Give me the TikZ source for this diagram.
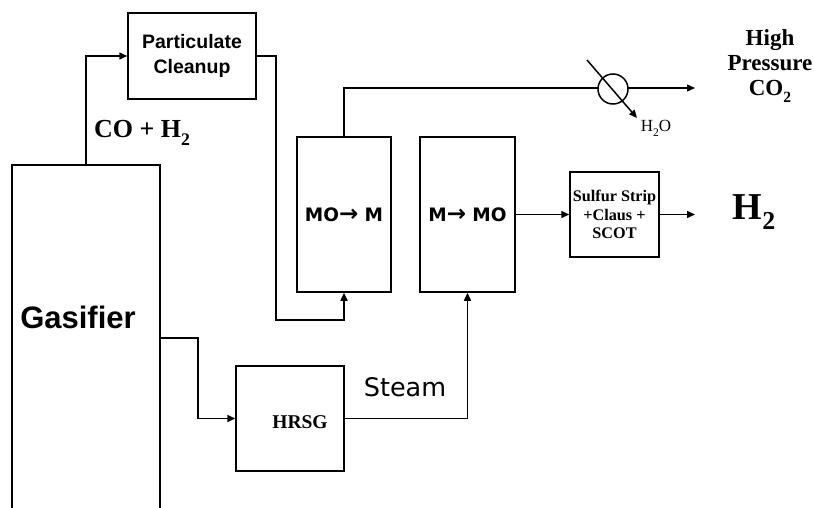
\documentclass[tikz,border=0pt]{standalone}
\usepackage{fontspec}
\setmainfont{Liberation Serif}
\newfontfamily\ari{Liberation Sans}
\newfontfamily\vrd{DejaVu Sans}
\usetikzlibrary{arrows.meta}
\newcommand\sbs[1]{\raisebox{-0.28em}{\scalebox{0.68}{#1}}}
\newcommand\bigarr{{\fontsize{23}{20}\selectfont →}}
\tikzset{
  box/.style={draw, line width=1.5pt, fill=white, inner sep=0pt, align=center},
  arr/.style={line width=1.5pt, -{Triangle[length=8pt,width=7pt]}},
}
\begin{document}
\begin{tikzpicture}[x=1pt,y=-1pt]
\useasboundingbox (0,0) rectangle (814,508);
% boxes
\node[box, minimum width=148pt, minimum height=380pt] (gas) at (86,355) {};
\node[font=\ari\bfseries\fontsize{31}{36}\selectfont] (gast) at (78,317) {Gasifier};
\node[box, minimum width=128pt, minimum height=86pt, font=\ari\bfseries\fontsize{19.5}{25}\selectfont] (pc) at (192,56) {Particulate\\Cleanup};
\node[box, minimum width=94pt, minimum height=155pt, font=\vrd\bfseries\fontsize{18.5}{20}\selectfont] (mom) at (344,214.5) {MO\bigarr{} M};
\node[box, minimum width=95pt, minimum height=155pt, font=\vrd\bfseries\fontsize{18.5}{20}\selectfont] (mmo) at (467.5,214.5) {M\bigarr{} MO};
\node[box, minimum width=89pt, minimum height=85pt, font=\bfseries\fontsize{16.2}{18.5}\selectfont] (sul) at (614.5,214.5) {Sulfur Strip\\+Claus +\\SCOT};
\node[box, minimum width=108pt, minimum height=105pt] (hrsg) at (290,418.5) {};
\node[font=\bfseries\fontsize{19.5}{20}\selectfont] (hrsgt) at (300,422) {HRSG};
% labels
\node[font=\bfseries\fontsize{23}{25}\selectfont, align=center] (hp) at (770,66) {High\\Pressure\\CO\sbs{2}};
\node[font=\bfseries\fontsize{26}{28}\selectfont] (coh) at (142,133) {CO + H\sbs{2}};
\node[font=\vrd\fontsize{25.5}{28}\selectfont] (steam) at (405,387) {Steam};
\node[font=\bfseries\fontsize{38}{40}\selectfont] (h2) at (754,212) {H\sbs{2}};
\node[font=\fontsize{17}{19}\selectfont] (h2o) at (656,128) {H\sbs{2}O};
% coordinates
\coordinate (co2end) at (695,88);
\coordinate (h2end) at (695,214.5);
\coordinate (gasout) at (160,338);
\coordinate (dA) at (587,60);
\coordinate (dB) at (637,118);
% connectors
\draw[arr] (gas.north) |- (pc.west);
\draw[arr] (pc.east) -| (276,320) -| (mom.south);
\draw[arr] (mom.north) |- (co2end);
\node[draw, circle, line width=1.5pt, fill=white, minimum size=30pt, inner sep=0pt] (sep) at (613,89) {};
\draw[arr] (dA) -- (dB);
\draw[arr] (mmo.east) -- (sul.west);
\draw[arr] (sul.east) -- (h2end);
\draw[arr] (gasout) -| (198,418.5) -- (hrsg.west);
\draw[arr] (hrsg.east) -| (mmo.south);
\end{tikzpicture}
\end{document}
